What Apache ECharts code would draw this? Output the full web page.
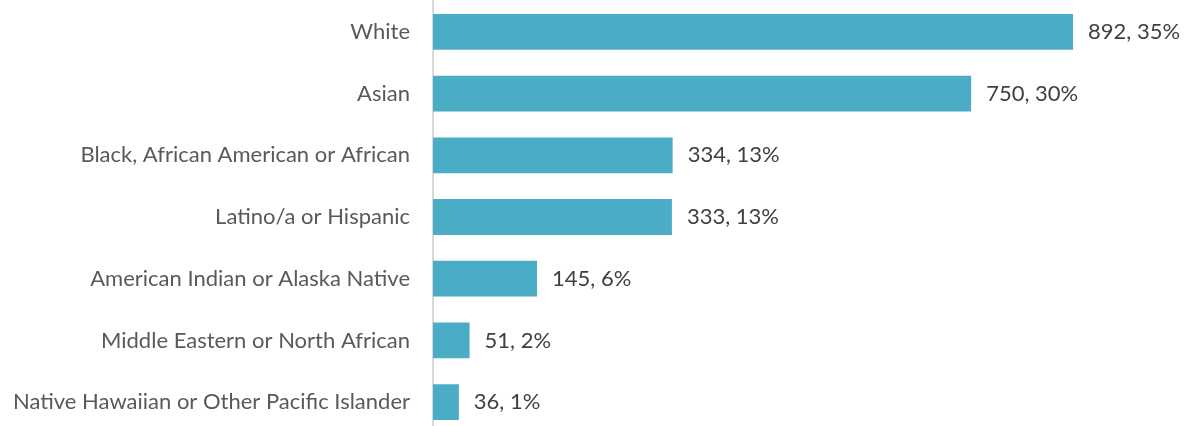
<!DOCTYPE html>
<html><head><meta charset="utf-8">
<script src="https://cdn.jsdelivr.net/npm/echarts@6/dist/echarts.min.js"></script>
<style>html,body{margin:0;padding:0;background:#fff}#c{width:1186px;height:426px}</style>
</head><body><div id="c"></div>
<script>
const categories = ["White","Asian","Black, African American or African","Latino/a or Hispanic","American Indian or Alaska Native","Middle Eastern or North African","Native Hawaiian or Other Pacific Islander"];
const counts = [892,750,334,333,145,51,36];
const percents = [35,30,13,13,6,2,1];

const chart = echarts.init(document.getElementById('c'), null, {renderer:'canvas'});
chart.setOption({
  animation:false,
  grid:{left:433, width:717.5, top:1, height:432, containLabel:false, outerBoundsMode:'none'},
  xAxis:{type:'value', min:0, max:1000, show:false},
  yAxis:{type:'category', inverse:true, data:categories,
    axisLine:{show:true, lineStyle:{color:'#d9d9d9', width:2}},
    axisTick:{show:false},
    axisLabel:{color:'#595959', fontFamily:'Lato', fontSize:22, margin:23}},
  series:[{type:'bar', data:counts, barWidth:'58%',
    itemStyle:{color:'#4bacc6'},
    label:{show:true, position:'right', distance:15, color:'#404040', fontFamily:'Lato', fontSize:22,
      formatter:p=>p.value+', '+percents[p.dataIndex]+'%'}}]
});
</script></body></html>
